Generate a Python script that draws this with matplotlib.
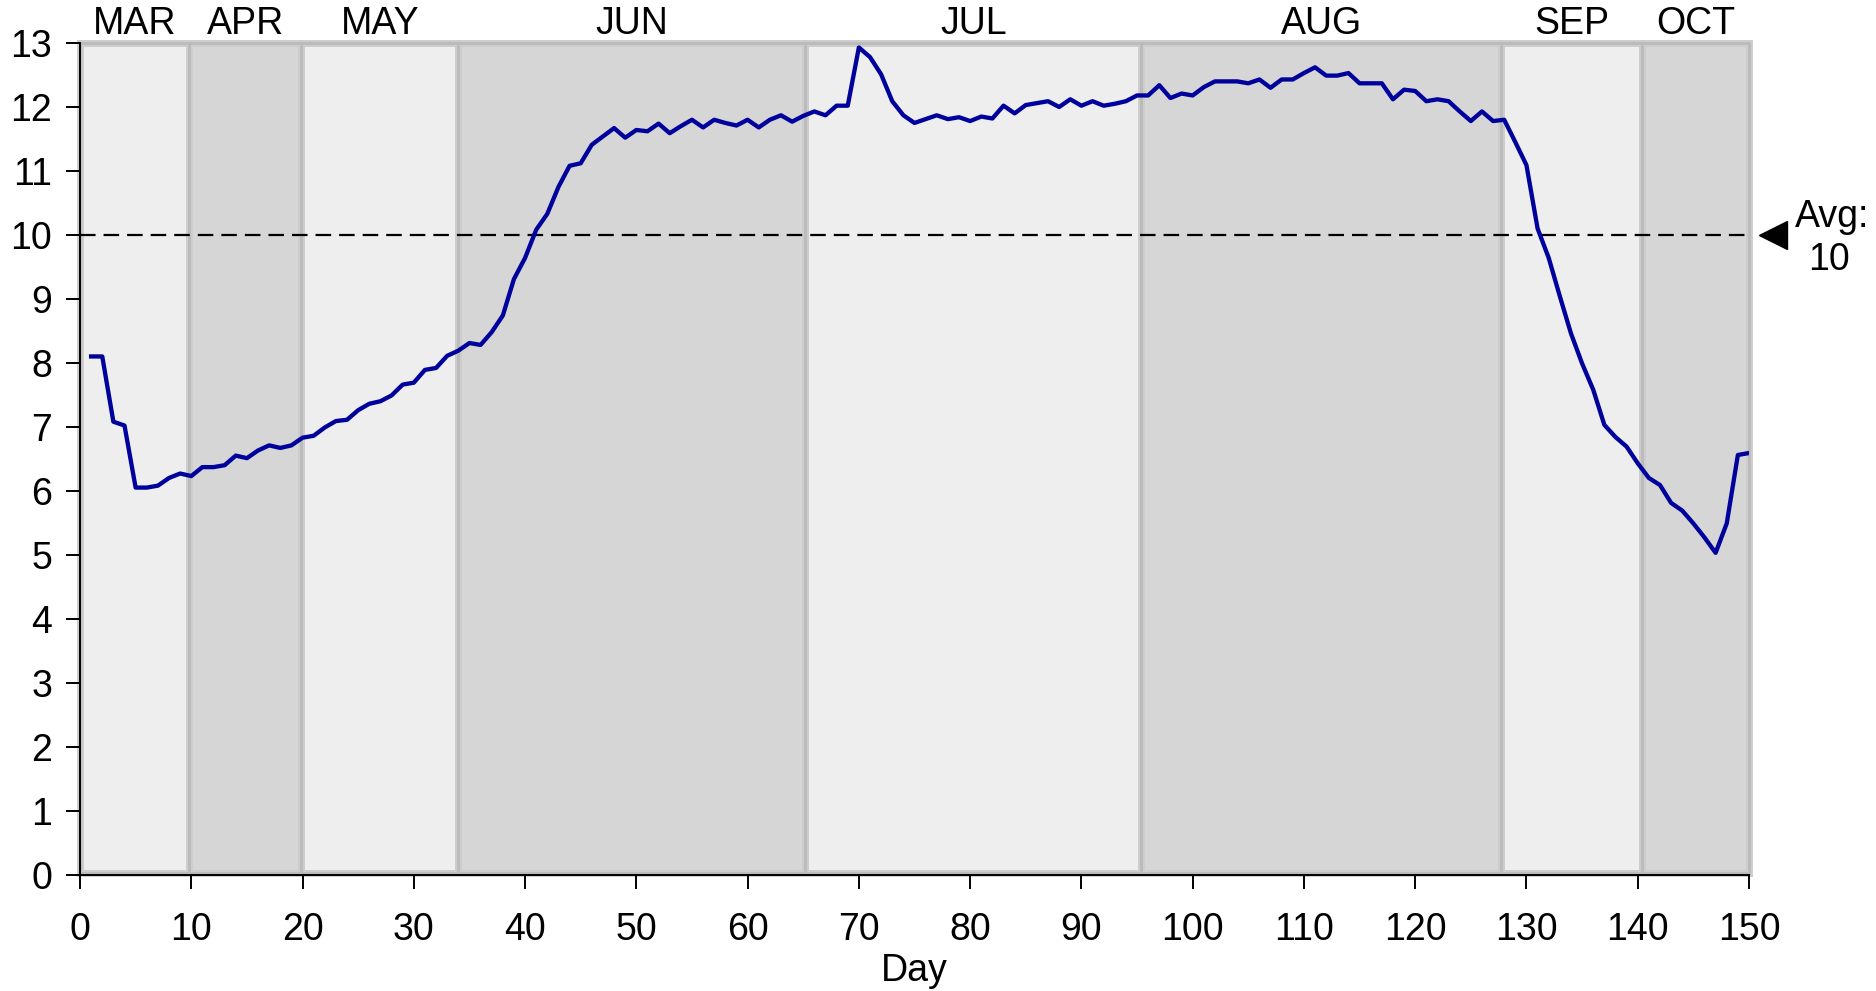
import matplotlib
matplotlib.use("Agg")
import matplotlib.pyplot as plt
from matplotlib.patches import Rectangle
import numpy as np

plt.rcParams['font.family'] = ['Liberation Sans', 'DejaVu Sans']

days = list(range(1, 151))
values = [
    8.10, 8.10, 7.08, 7.02, 6.05, 6.05, 6.08, 6.20, 6.27, 6.23,
    6.37, 6.37, 6.40, 6.55, 6.51, 6.63, 6.71, 6.67, 6.71, 6.83,
    6.86, 6.99, 7.09, 7.11, 7.26, 7.36, 7.40, 7.49, 7.66, 7.69,
    7.89, 7.92, 8.11, 8.19, 8.31, 8.28, 8.48, 8.74, 9.31, 9.64,
    10.08, 10.33, 10.75, 11.08, 11.12, 11.41, 11.54, 11.67, 11.52, 11.64,
    11.62, 11.74, 11.59, 11.70, 11.80, 11.68, 11.80, 11.75, 11.71, 11.80,
    11.68, 11.80, 11.87, 11.77, 11.86, 11.93, 11.87, 12.02, 12.02, 12.93,
    12.78, 12.51, 12.09, 11.87, 11.75, 11.81, 11.87, 11.81, 11.84, 11.78,
    11.85, 11.82, 12.02, 11.90, 12.03, 12.06, 12.09, 12.00, 12.12, 12.02,
    12.09, 12.02, 12.05, 12.09, 12.18, 12.18, 12.34, 12.14, 12.21, 12.18,
    12.31, 12.40, 12.40, 12.40, 12.37, 12.43, 12.30, 12.43, 12.43, 12.53,
    12.62, 12.49, 12.49, 12.53, 12.37, 12.37, 12.37, 12.12, 12.27, 12.25,
    12.09, 12.12, 12.09, 11.93, 11.78, 11.93, 11.78, 11.80, 11.45, 11.09,
    10.10, 9.64, 9.04, 8.46, 7.99, 7.58, 7.03, 6.84, 6.69, 6.43,
    6.20, 6.09, 5.81, 5.69, 5.49, 5.27, 5.03, 5.49, 6.56, 6.59,
]

months = ["MAR", "APR", "MAY", "JUN", "JUL", "AUG", "SEP", "OCT"]
month_edges = [0, 9.8, 19.9, 34.0, 65.2, 95.4, 127.7, 140.4, 150]
avg_value = 10
x_ticks = list(range(0, 151, 10))
y_ticks = list(range(0, 14))

FS = 27

fig = plt.figure(figsize=(18.76, 9.91), dpi=100)
ax = fig.add_axes([80 / 1876, 1 - 874.6 / 991, (1749 - 80) / 1876, (874.6 - 43) / 991])

band_colors = ["#EEEEEE", "#D6D6D6"]
for i, m in enumerate(months):
    x0, x1 = month_edges[i], month_edges[i + 1]
    ax.add_patch(Rectangle((x0, 0.03), x1 - x0, 12.97, facecolor=band_colors[i % 2],
                           edgecolor="#CDCDCD", linewidth=5, zorder=0, clip_on=False))
    ax.add_patch(Rectangle((x0, 0.03), x1 - x0, 12.97, facecolor="none",
                           edgecolor="#BBBBBB", linewidth=2, zorder=0.5, clip_on=False))
    ax.text((x0 + x1) / 2, 13.14, m, ha="center", va="baseline", fontsize=FS, color="black")

ax.axhline(avg_value, color="black", linewidth=1.6, linestyle=(0, (7.0, 3.6)), zorder=2)
ax.plot(days, values, color="#00009C", linewidth=3.1, zorder=3)

ax.plot([152.2], [avg_value], marker="<", markersize=20, color="black", clip_on=False)
ax.text(157.5, 10.125, "Avg:", ha="center", va="baseline", fontsize=FS)
ax.text(157.2, 9.45, "10", ha="center", va="baseline", fontsize=FS)

ax.set_xlim(0, 150)
ax.set_ylim(0, 13)
ax.set_xticks(x_ticks)
ax.set_yticks(y_ticks)
ax.tick_params(axis="both", direction="out", length=10, width=1.4, labelsize=FS)
ax.tick_params(axis="x", pad=17)
ax.tick_params(axis="y", pad=10)
for s in ["top", "right"]:
    ax.spines[s].set_visible(False)
for s in ["left", "bottom"]:
    ax.spines[s].set_linewidth(1.4)
    ax.spines[s].set_zorder(4)
ax.set_facecolor("white")
fig.text(ax.get_position().x0 + ax.get_position().width / 2, 0.010, "Day",
         ha="center", va="baseline", fontsize=FS)

fig.savefig("out.png", dpi=100)
